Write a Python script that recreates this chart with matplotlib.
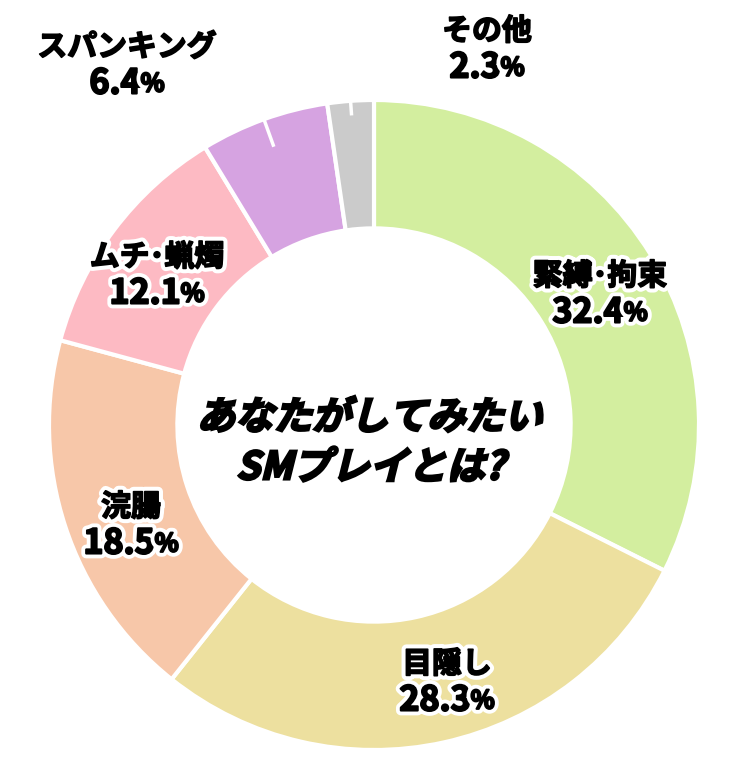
import numpy as np
import matplotlib
matplotlib.use("Agg")
import matplotlib.pyplot as plt
import matplotlib.patheffects as pe
import matplotlib.transforms as mtransforms
from matplotlib.font_manager import FontProperties
from matplotlib.textpath import TextPath
from matplotlib.patches import PathPatch

plt.rcParams['font.family'] = ['Noto Sans CJK JP', 'DejaVu Sans']

# data
labels = ["緊縛･拘束", "目隠し", "浣腸", "ムチ･蝋燭", "スパンキング", "その他"]
values = [32.4, 28.3, 18.5, 12.1, 6.4, 2.3]
colors = ["#d3ee9f", "#ede09f", "#f7c7a9", "#fdbac3", "#d6a3e1", "#cbcbcb"]
outside = [False, False, False, False, True, True]
title_lines = ["あなたがしてみたい", "SMプレイとは?"]

W, H = 750, 771
cx, cy, R = 374, 425, 325
# label block centres in pixels (x, y from top)
label_px = [(600, 294), (447, 682), (131, 525), (157, 275), (127, 65), (487, 49)]

fig = plt.figure(figsize=(W / 100, H / 100), dpi=100)
ax = fig.add_axes([0, 0, 1, 1])

wedges, _ = ax.pie(values, colors=colors, startangle=90, counterclock=False,
                   radius=1.0, wedgeprops=dict(width=0.395, edgecolor="white", linewidth=3))
ax.set_xlim(-cx / R, (W - cx) / R)
ax.set_ylim(-(H - cy) / R, cy / R)
ax.axis("off")

name_fx = [pe.Stroke(linewidth=7, foreground="white"),
           pe.Stroke(linewidth=1.2, foreground="black"), pe.Normal()]
num_fx = [pe.Stroke(linewidth=7, foreground="white"),
          pe.Stroke(linewidth=1.5, foreground="black"), pe.Normal()]
half_gap = 18 / R

renderer = fig.canvas.get_renderer()
inv = ax.transData.inverted()

def data_width(t):
    bb = t.get_window_extent(renderer)
    return inv.transform((bb.x1, 0))[0] - inv.transform((bb.x0, 0))[0]

for i, w in enumerate(wedges):
    mid = np.deg2rad((w.theta1 + w.theta2) / 2)
    if outside[i]:
        # short white leader tick inside the slice
        inner = 0.91 if i == 4 else 0.955
        ax.plot([np.cos(mid), inner * np.cos(mid)], [np.sin(mid), inner * np.sin(mid)],
                color="white", lw=2.5, solid_capstyle="butt")
    px, py = label_px[i]
    x, y = (px - cx) / R, (cy - py) / R
    ax.text(x, y + half_gap, labels[i], ha="center", va="center", fontsize=21.5,
            fontweight="bold", color="black", path_effects=name_fx)
    tn = ax.text(x, y - half_gap, f"{values[i]}", ha="right", va="center", fontsize=24.5,
                 fontweight="bold", color="black", path_effects=num_fx)
    tp = ax.text(x, y - half_gap - 1.5 / R, "%", ha="left", va="center", fontsize=18,
                 fontweight="bold", color="black", path_effects=num_fx)
    dx = (data_width(tn) - data_width(tp)) / 2
    tn.set_x(x + dx)
    tp.set_x(x + dx)

# italic centre title drawn as skewed text paths
fp = FontProperties(family="Noto Sans CJK JP", weight="bold")
line_y = [(cy - 414) / R, (cy - 464) / R]
target_w = 340 / R
base = TextPath((0, 0), title_lines[0], size=1, prop=fp)
scale = target_w / base.get_extents().width
for s, yy in zip(title_lines, line_y):
    tpath = TextPath((0, 0), s, size=1, prop=fp)
    ext = tpath.get_extents()
    tr = (mtransforms.Affine2D()
          .translate(-(ext.x0 + ext.width / 2), -(ext.y0 + ext.height / 2))
          .skew_deg(14, 0)
          .scale(scale)
          .translate(0, yy))
    ax.add_patch(PathPatch(tr.transform_path(tpath), facecolor="black",
                           edgecolor="black", linewidth=1.8))

fig.savefig("out.png", dpi=100)
